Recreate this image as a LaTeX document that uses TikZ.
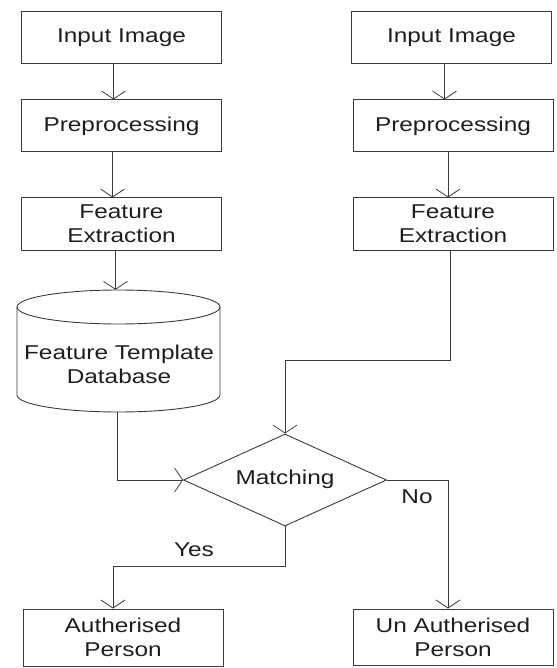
\documentclass[tikz,border=0pt]{standalone}
\usepackage{fontspec}
\setmainfont{Liberation Sans}[FakeStretch=1.22]
\usetikzlibrary{shapes.geometric,arrows.meta}
\definecolor{ln}{HTML}{3A3A3A}
\definecolor{tx}{HTML}{1E1E1E}
\begin{document}
\begin{tikzpicture}[x=1pt,y=-1pt,
  every node/.style={font=\fontsize{20}{24}\selectfont, text=tx, align=center},
  box/.style={draw=ln, line width=1pt, rectangle, minimum width=200pt, minimum height=52pt, inner sep=0pt},
  dec/.style={draw=ln, line width=0.9pt, diamond, aspect=2.2, minimum width=203pt, minimum height=92pt, inner sep=0pt},
  conn/.style={draw=ln, line width=1pt},
  arr/.style={conn, -{Straight Barb[length=8pt, width=24pt, line width=0.8pt]}},
  lbl/.style={inner sep=0pt}
]
\useasboundingbox (0,0) rectangle (556,668);

% left column
\node[box] (in1) at (121.5,37.5) {Input Image};
\node[box] (pre1) at (121.5,126) {Preprocessing};
\node[box] (fe1) at (121.5,224) {Feature\\Extraction};

% database cylinder
\node[minimum width=203pt, minimum height=122pt, inner sep=0pt] (db) at (118.5,351) {};
\draw[conn, line width=0.9pt] (17,307) arc[start angle=180, end angle=360, x radius=101.5, y radius=-17]
   arc[start angle=0, end angle=180, x radius=101.5, y radius=-17] -- cycle;
\draw[conn, line width=0.9pt] (17,307) -- (17,395) arc[start angle=180, end angle=360, x radius=101.5, y radius=-17] -- (220,307);
\node[lbl] (dbt) at (119,364) {Feature Template\\Database};

% right column
\node[box] (in2) at (451.5,37.5) {Input Image};
\node[box] (pre2) at (453,126) {Preprocessing};
\node[box] (fe2) at (453,224) {Feature\\Extraction};

% decision
\node[dec] (match) at (285,480) {};
\node[lbl] (mt) at (285,479) {Matching};

% outputs
\node[box, minimum height=57pt] (auth) at (123,637.5) {Autherised\\Person};
\node[box, minimum height=56pt] (unauth) at (453,637) {Un Autherised\\Person};

% bend coordinates
\coordinate (rbend) at (285,360);
\coordinate (ybend) at (113,566);

% connectors
\draw[arr] ([xshift=-8pt]in1.south) -- ([xshift=-8pt]pre1.north);
\draw[arr] ([xshift=-9pt]pre1.south) -- ([xshift=-9pt]pre1.south |- fe1.north);
\draw[arr] ([xshift=-3pt]db.north |- fe1.south) -- ([xshift=-3pt]db.north);
\draw[arr] ([xshift=-7pt]in2.south) -- ([xshift=-7pt]in2.south |- pre2.north);
\draw[arr] ([xshift=-5pt]pre2.south) -- ([xshift=-5pt]fe2.north);
\draw[arr] ([xshift=-3pt]fe2.south) |- (rbend) -- (match.north);
\draw[arr] ([xshift=-1.5pt]db.south) |- (match.west);
\draw[arr] (match.south) |- (ybend) -- (ybend |- auth.north);
\draw[arr] (match.east) -| ([xshift=-5pt]unauth.north);

% labels
\node[lbl] (yes) at (194,550) {Yes};
\node[lbl] (no) at (417,497) {No};
\end{tikzpicture}
\end{document}
